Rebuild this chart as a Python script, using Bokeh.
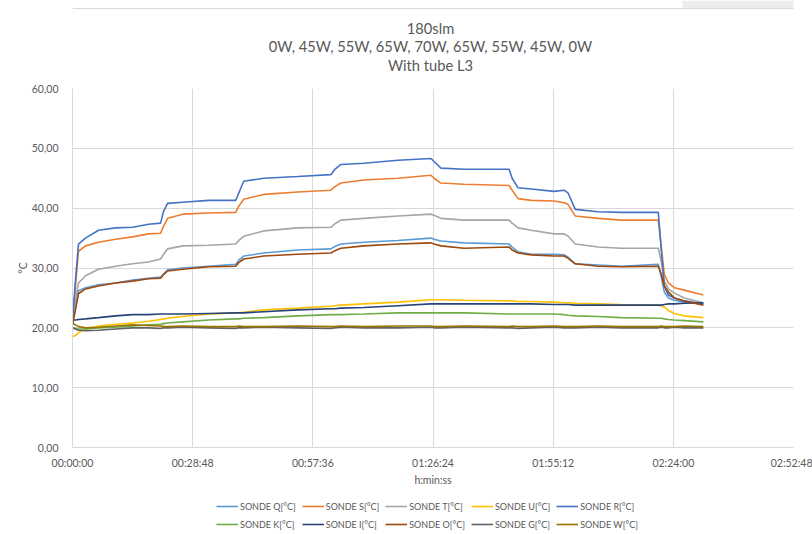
from bokeh.plotting import figure
from bokeh.models import Range1d, FixedTicker, Legend, LegendItem, Label, Span, BoxAnnotation
from bokeh.layouts import column
from bokeh.embed import file_html
from bokeh.resources import INLINE

# time in seconds since start
time_s = [0, 43, 86, 187, 374, 619, 864, 1094, 1267, 1310, 1368, 1584, 1958, 2347,
          2390, 2462, 2750, 3240, 3715, 3773, 3859, 4190, 4680, 5155, 5198, 5299,
          5630, 6278, 6322, 6408, 6595, 6926, 7070, 7128, 7229, 7560, 7891, 8424,
          8467, 8510, 8568, 8654, 8798, 9072]

sonde_q = [21.0, 23.5, 26.2, 26.7, 27.2, 27.5, 28.0, 28.3, 28.5, 29.0, 29.7, 30.0, 30.3, 30.6,
           31.3, 32.0, 32.5, 33.0, 33.2, 33.6, 34.0, 34.3, 34.6, 35.0, 34.8, 34.5,
           34.2, 34.0, 33.5, 32.7, 32.3, 32.3, 32.2, 31.8, 30.7, 30.5, 30.3, 30.6,
           28.5, 26.0, 25.0, 24.6, 24.3, 24.0]
sonde_s = [21.0, 27.0, 32.8, 33.7, 34.3, 34.8, 35.2, 35.7, 35.8, 37.0, 38.3, 39.0, 39.2, 39.3,
           40.3, 41.5, 42.3, 42.7, 43.0, 43.6, 44.2, 44.7, 45.0, 45.5, 45.0, 44.2,
           44.0, 43.8, 43.0, 41.6, 41.3, 41.2, 40.9, 40.6, 38.7, 38.3, 38.0, 38.0,
           33.5, 29.0, 27.5, 26.7, 26.3, 25.5]
sonde_t = [21.0, 24.5, 27.5, 28.7, 29.8, 30.3, 30.7, 31.0, 31.5, 32.3, 33.2, 33.7, 33.8, 34.0,
           34.6, 35.3, 36.2, 36.7, 36.8, 37.4, 38.0, 38.3, 38.7, 39.0, 38.8, 38.3,
           38.0, 38.0, 37.5, 36.7, 36.3, 35.7, 35.7, 35.3, 34.0, 33.5, 33.3, 33.3,
           31.0, 27.8, 26.5, 25.8, 25.0, 24.2]
sonde_u = [18.5, 18.7, 19.2, 19.8, 20.3, 20.6, 20.8, 21.1, 21.4, 21.5, 21.6, 21.9, 22.3, 22.5,
           22.5, 22.6, 23.0, 23.3, 23.6, 23.7, 23.8, 24.0, 24.3, 24.7, 24.7, 24.7,
           24.6, 24.5, 24.5, 24.4, 24.4, 24.3, 24.2, 24.2, 24.1, 24.0, 23.9, 23.8,
           23.7, 23.5, 22.9, 22.4, 22.0, 21.7]
sonde_r = [21.0, 28.0, 34.0, 35.0, 36.3, 36.7, 36.8, 37.3, 37.5, 39.5, 40.8, 41.0, 41.3, 41.3,
           42.5, 44.5, 45.0, 45.3, 45.6, 46.5, 47.3, 47.5, 48.0, 48.3, 47.8, 46.7,
           46.5, 46.5, 45.0, 43.4, 43.2, 42.8, 43.0, 42.5, 39.8, 39.4, 39.3, 39.3,
           33.0, 27.0, 25.5, 25.0, 24.5, 24.0]
sonde_k = [20.0, 19.9, 19.8, 19.8, 20.0, 20.1, 20.3, 20.5, 20.6, 20.7, 20.8, 21.0, 21.3, 21.5,
           21.5, 21.6, 21.7, 22.0, 22.2, 22.2, 22.2, 22.3, 22.5, 22.5, 22.5, 22.5,
           22.5, 22.3, 22.3, 22.3, 22.3, 22.3, 22.2, 22.1, 22.0, 21.9, 21.7, 21.6,
           21.6, 21.5, 21.4, 21.3, 21.2, 21.0]
sonde_i = [21.3, 21.3, 21.4, 21.5, 21.7, 22.0, 22.2, 22.2, 22.3, 22.3, 22.3, 22.3, 22.4, 22.5,
           22.5, 22.5, 22.7, 23.0, 23.2, 23.2, 23.3, 23.4, 23.7, 24.0, 24.0, 24.0,
           24.0, 24.0, 24.0, 24.0, 24.0, 23.9, 23.9, 23.9, 23.8, 23.8, 23.8, 23.8,
           23.8, 23.9, 24.0, 24.0, 24.1, 24.2]
sonde_o = [20.5, 23.0, 25.7, 26.5, 27.0, 27.5, 27.8, 28.2, 28.3, 28.9, 29.5, 29.8, 30.2, 30.3,
           30.9, 31.5, 32.0, 32.3, 32.5, 32.9, 33.3, 33.7, 34.0, 34.2, 34.0, 33.7,
           33.3, 33.5, 33.0, 32.5, 32.2, 32.0, 32.0, 31.6, 30.7, 30.3, 30.2, 30.3,
           29.0, 27.0, 26.0, 25.0, 24.5, 23.8]
sonde_g = [20.0, 19.8, 19.6, 19.5, 19.6, 19.8, 20.0, 20.0, 19.9, 20.0, 20.0, 20.1, 20.0, 19.9,
           20.0, 20.0, 20.1, 20.0, 19.9, 20.0, 20.1, 20.0, 20.0, 20.1, 20.0, 20.0,
           20.1, 20.0, 20.0, 19.9, 20.0, 20.1, 20.0, 20.0, 20.0, 20.1, 20.0, 20.0,
           20.1, 20.0, 20.0, 20.1, 20.0, 20.0]
sonde_w = [20.8, 20.5, 20.2, 20.0, 20.1, 20.3, 20.5, 20.4, 20.3, 20.2, 20.2, 20.3, 20.2, 20.2,
           20.3, 20.2, 20.2, 20.3, 20.2, 20.2, 20.3, 20.2, 20.3, 20.3, 20.2, 20.2,
           20.3, 20.2, 20.3, 20.2, 20.2, 20.3, 20.2, 20.2, 20.2, 20.3, 20.2, 20.2,
           20.3, 20.2, 20.2, 20.2, 20.3, 20.2]

series_names = ["SONDE Q[°C]", "SONDE S[°C]", "SONDE T[°C]", "SONDE U[°C]", "SONDE R[°C]",
                "SONDE K[°C]", "SONDE I[°C]", "SONDE O[°C]", "SONDE G[°C]", "SONDE W[°C]"]
series_values = [sonde_q, sonde_s, sonde_t, sonde_u, sonde_r,
                 sonde_k, sonde_i, sonde_o, sonde_g, sonde_w]
series_colors = ["#5B9BD5", "#ED7D31", "#A5A5A5", "#FFC000", "#4472C4",
                 "#70AD47", "#264478", "#9E480E", "#636363", "#997300"]

x_ticks = [0, 1728, 3456, 5184, 6912, 8640, 10368]
x_tick_labels = ["00:00:00", "00:28:48", "00:57:36", "01:26:24", "01:55:12", "02:24:00", "02:52:48"]
y_ticks = [0, 10, 20, 30, 40, 50, 60]
y_tick_labels = ["0,00", "10,00", "20,00", "30,00", "40,00", "50,00", "60,00"]

title_lines = ["180slm", "0W, 45W, 55W, 65W, 70W, 65W, 55W, 45W, 0W", "With tube L3"]

FONT = "Lato"
TXT = "#595959"
W = 812

# ---- title strip; the column aligns its frame with the chart frame (page x 72..793) ----
top = figure(width=W, height=80, output_backend="svg", toolbar_location=None, title=None,
             x_axis_location=None, y_axis_location=None,
             x_range=Range1d(72, 793), y_range=Range1d(80, 0),
             min_border_left=0, min_border_right=0, min_border_top=0, min_border_bottom=0)
top.grid.visible = False
top.outline_line_color = None
top.add_layout(BoxAnnotation(left=682, right=W, top=0, bottom=8,
                             fill_color="#EDEDED", fill_alpha=1, line_color=None))
top.add_layout(Span(location=8, dimension="width", line_color="#D9D9D9", line_width=1))
for txt, ypos in zip(title_lines, [27, 45, 64]):
    top.add_layout(Label(x=430, y=ypos, text=txt, text_align="center", text_baseline="middle",
                         text_font=FONT, text_font_size="14.7px", text_color=TXT))

# ---- main chart ----
p = figure(width=W, height=410, output_backend="svg", toolbar_location=None, title=None,
           x_range=Range1d(0, 10368), y_range=Range1d(0, 60),
           min_border_left=72, min_border_right=19, min_border_top=8, min_border_bottom=43)
p.outline_line_color = None

for ax in (p.xaxis[0], p.yaxis[0]):
    ax.axis_line_color = "#D9D9D9"
    ax.major_tick_line_color = None
    ax.minor_tick_line_color = None
    ax.major_label_text_font = FONT
    ax.major_label_text_font_size = "10.5px"
    ax.major_label_text_color = TXT
    ax.axis_label_text_font = FONT
    ax.axis_label_text_font_size = "10.5px"
    ax.axis_label_text_font_style = "normal"
    ax.axis_label_text_color = TXT

p.xaxis.ticker = FixedTicker(ticks=x_ticks)
p.xaxis.major_label_overrides = dict(zip(x_ticks, x_tick_labels))
p.xaxis.axis_label = "h:min:ss"
p.xaxis.major_label_standoff = 3
p.xaxis.axis_label_standoff = 2

p.yaxis.ticker = FixedTicker(ticks=y_ticks)
p.yaxis.major_label_overrides = dict(zip(y_ticks, y_tick_labels))
p.yaxis.axis_label = "°C"
p.yaxis.major_label_standoff = 8
p.yaxis.axis_label_standoff = 0

p.xgrid.grid_line_color = "#D9D9D9"
p.ygrid.grid_line_color = "#D9D9D9"

for vals, col in zip(series_values, series_colors):
    p.line(time_s, vals, line_color=col, line_width=1.6)

# ---- legend strip: same series drawn out of view, only the legend shows ----
lg = figure(width=W, height=44, output_backend="svg", toolbar_location=None, title=None,
            x_axis_location=None, y_axis_location=None,
            x_range=Range1d(0, 1), y_range=Range1d(-10, -5),
            min_border_left=0, min_border_right=0, min_border_top=6, min_border_bottom=0)
lg.grid.visible = False
lg.outline_line_color = None
items = []
for name, vals, col in zip(series_names, series_values, series_colors):
    r = lg.line(time_s, vals, line_color=col, line_width=1.6)
    items.append(LegendItem(label=name, renderers=[r]))
legend = Legend(items=items, ncols=5, orientation="horizontal", location=(144, 4),
                border_line_color=None, background_fill_alpha=0,
                label_text_font=FONT, label_text_font_size="9px", label_text_color=TXT,
                glyph_width=22, glyph_height=10, label_standoff=2, spacing=6,
                label_width=49, label_height=12, padding=0, margin=0)
lg.add_layout(legend, "center")

open("out.html", "w").write(file_html(column(top, p, lg, spacing=0), INLINE))
